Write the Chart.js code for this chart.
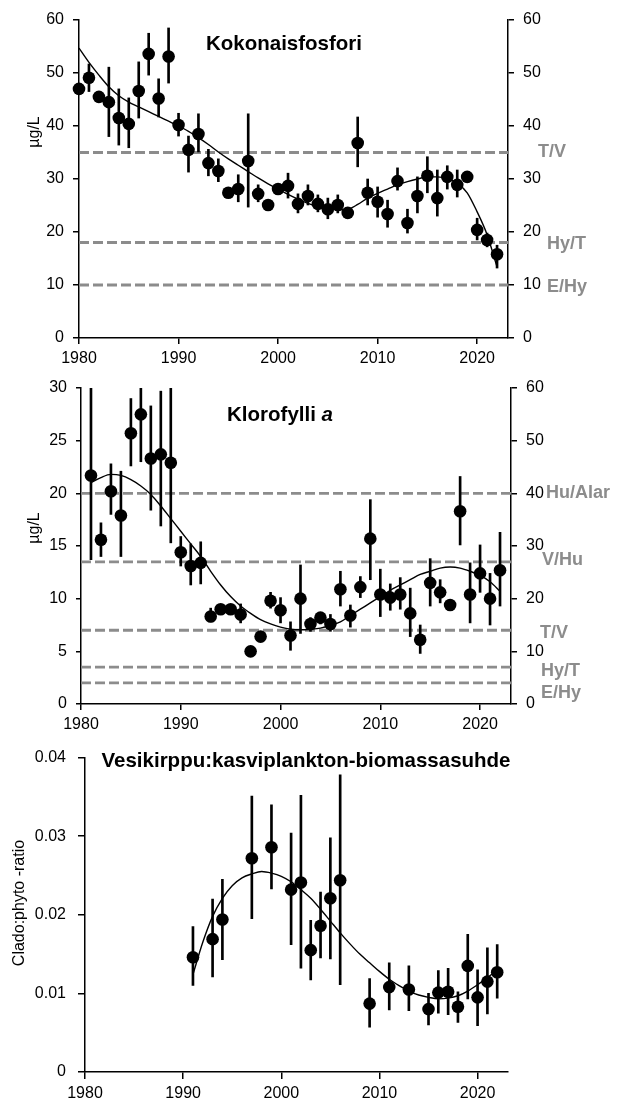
<!DOCTYPE html>
<html>
<head>
<meta charset="utf-8">
<script src="https://cdn.jsdelivr.net/npm/chart.js@4.4.0/dist/chart.umd.min.js"></script>
<style>
body { margin: 0; background: #fff; width: 621px; height: 1099px; position: relative; overflow: hidden; }
canvas { position: absolute; left: 0; }
</style>
</head>
<body>
<canvas id="g1" width="621" height="366" style="top:0px"></canvas>
<canvas id="g2" width="621" height="370" style="top:366px"></canvas>
<canvas id="g3" width="621" height="363" style="top:736px"></canvas>
<script>
// x axis shared by all three panels
var xTicks = [1980, 1990, 2000, 2010, 2020];
var xMin = 1980, xMax = 2023.1;

// Kokonaisfosfori (ug/L), yearly means with error bars + fitted curve
var tpYears = [1980, 1981, 1982, 1983, 1984, 1985, 1986, 1987, 1988, 1989,
               1990, 1991, 1992, 1993, 1994, 1995, 1996, 1997, 1998, 1999,
               2000, 2001, 2002, 2003, 2004, 2005, 2006, 2007, 2008, 2009,
               2010, 2011, 2012, 2013, 2014, 2015, 2016, 2017, 2018, 2019,
               2020, 2021, 2022];
var tpMean = [47.0, 49.1, 45.5, 44.5, 41.5, 40.4, 46.6, 53.6, 45.2, 53.1,
              40.2, 35.5, 38.5, 33.0, 31.5, 27.4, 28.1, 33.4, 27.2, 25.1,
              28.1, 28.7, 25.3, 26.8, 25.3, 24.3, 25.1, 23.6, 36.8, 27.4,
              25.7, 23.4, 29.6, 21.7, 26.8, 30.6, 26.4, 30.4, 28.9, 30.4,
              20.4, 18.5, 15.8];
var tpLow = [46.0, 46.5, 44.8, 38.0, 36.4, 35.9, 41.5, 49.6, 41.7, 48.1,
             38.1, 31.3, 35.1, 30.6, 29.5, 26.6, 25.7, 24.7, 25.7, 24.4,
             27.3, 26.4, 23.6, 25.1, 23.8, 22.5, 23.6, 22.9, 32.3, 25.1,
             22.8, 20.9, 27.9, 19.8, 23.6, 27.4, 23.0, 28.1, 26.6, 29.7,
             18.5, 17.2, 13.2];
var tpHigh = [48.0, 51.7, 46.2, 51.1, 47.0, 45.3, 52.1, 57.5, 48.9, 58.5,
              42.4, 38.1, 42.3, 35.6, 33.8, 28.2, 30.8, 42.3, 28.9, 25.8,
              28.9, 31.1, 27.2, 28.9, 27.0, 26.4, 27.0, 24.3, 41.7, 30.0,
              28.5, 26.0, 32.1, 24.3, 30.4, 34.2, 31.7, 32.5, 31.7, 31.1,
              22.6, 19.8, 17.5];
var tpFit = [54.7, 52.0, 49.6, 47.4, 45.7, 44.5, 43.6, 42.7, 41.8, 40.9,
             40.0, 39.0, 37.8, 36.5, 35.1, 33.8, 32.6, 31.4, 30.2, 29.1,
             28.1, 27.1, 26.2, 25.4, 24.8, 24.4, 24.2, 24.3, 25.2, 26.4,
             27.3, 28.1, 28.9, 29.5, 30.0, 30.4, 30.4, 30.1, 29.2, 27.4,
             23.8, 19.5, 13.4];
var tpTicks = [0, 10, 20, 30, 40, 50, 60];
var tpClasses = ['T/V', 'Hy/T', 'E/Hy'];
var tpLimits = [35, 18, 10];

// Klorofylli a (ug/L)
var chlYears = [1981, 1982, 1983, 1984, 1985, 1986, 1987, 1988, 1989,
                1990, 1991, 1992, 1993, 1994, 1995, 1996, 1997, 1998, 1999,
                2000, 2001, 2002, 2003, 2004, 2005, 2006, 2007, 2008, 2009,
                2010, 2011, 2012, 2013, 2014, 2015, 2016, 2017, 2018, 2019,
                2020, 2021, 2022];
var chlMean = [21.7, 15.6, 20.2, 17.9, 25.7, 27.5, 23.3, 23.7, 22.9,
               14.4, 13.1, 13.4, 8.3, 9.0, 9.0, 8.5, 5.0, 6.4, 9.8,
               8.9, 6.5, 10.0, 7.6, 8.2, 7.6, 10.9, 8.4, 11.1, 15.7,
               10.4, 10.1, 10.4, 8.6, 6.1, 11.5, 10.6, 9.4, 18.3, 10.4,
               12.4, 10.0, 12.7];
var chlLow = [13.7, 14.0, 18.0, 14.0, 22.6, 23.0, 18.4, 16.9, 15.3,
              13.1, 11.3, 11.4, 7.8, 8.6, 8.6, 7.7, 4.7, 6.1, 9.1,
              7.7, 5.1, 6.7, 6.9, 7.6, 6.9, 9.3, 7.3, 10.1, 11.8,
              8.3, 8.9, 9.0, 6.4, 4.8, 9.3, 9.6, 9.0, 15.1, 7.7,
              10.6, 7.5, 9.3];
var chlHigh = [30.0, 17.2, 22.8, 22.1, 29.0, 30.0, 28.3, 29.7, 30.0,
               15.9, 15.2, 15.4, 9.1, 9.4, 9.4, 9.5, 5.3, 6.7, 10.6,
               10.1, 7.8, 13.2, 8.2, 8.7, 8.5, 12.6, 9.4, 12.1, 19.4,
               12.8, 11.4, 12.0, 11.0, 7.5, 13.8, 11.8, 9.8, 21.6, 13.4,
               15.1, 12.4, 16.3];
var chlFit = [21.0, 21.5, 21.8, 21.7, 21.3, 20.7, 19.9, 18.8, 17.6,
              16.4, 15.2, 14.0, 12.6, 11.3, 10.2, 9.3, 8.6, 8.0, 7.6,
              7.3, 7.1, 7.05, 7.1, 7.2, 7.45, 7.8, 8.4, 9.0, 9.6,
              10.2, 10.8, 11.3, 11.8, 12.3, 12.6, 12.9, 13.0, 12.9, 12.6,
              12.2, 11.6, 10.7];
var chlTicks = [0, 5, 10, 15, 20, 25, 30];
var chlRightTicks = [0, 10, 20, 30, 40, 50, 60];
var chlClasses = ['Hu/Alar', 'V/Hu', 'T/V', 'Hy/T', 'E/Hy'];
var chlLimits = [20, 13.5, 7, 3.5, 2];

// Vesikirppu:kasviplankton-biomassasuhde
var ratioYears = [1991, 1993, 1994, 1997, 1999, 2001, 2002, 2003, 2004, 2005, 2006,
                  2009, 2011, 2013, 2015, 2016, 2017, 2018, 2019, 2020, 2021, 2022];
var ratioMean = [0.0146, 0.0169, 0.0194, 0.0272, 0.0286, 0.0232, 0.0241, 0.0155, 0.0186, 0.0221, 0.0244,
                 0.0087, 0.0108, 0.0105, 0.0080, 0.0101, 0.0102, 0.0083, 0.0135, 0.0095, 0.0115, 0.0127];
var ratioLow = [0.0110, 0.0121, 0.0143, 0.0195, 0.0233, 0.0162, 0.0132, 0.0117, 0.0145, 0.0144, 0.0111,
                0.0057, 0.0079, 0.0078, 0.0060, 0.0075, 0.0073, 0.0063, 0.0093, 0.0059, 0.0074, 0.0094];
var ratioHigh = [0.0185, 0.0220, 0.0245, 0.0351, 0.0340, 0.0304, 0.0352, 0.0193, 0.0229, 0.0298, 0.0378,
                 0.0119, 0.0139, 0.0135, 0.0100, 0.0129, 0.0132, 0.0102, 0.0175, 0.0130, 0.0158, 0.0162];
var ratioFitYears = [1991, 1992, 1993, 1994, 1995, 1996, 1997, 1998, 1999,
                     2000, 2001, 2002, 2003, 2004, 2005, 2006, 2007, 2008, 2009,
                     2010, 2011, 2012, 2013, 2014, 2015, 2016, 2017, 2018, 2019,
                     2020, 2021, 2022];
var ratioFit = [0.0124, 0.0165, 0.0198, 0.0221, 0.0237, 0.0247, 0.0252, 0.0255, 0.0253,
                0.0249, 0.0242, 0.0232, 0.0221, 0.0207, 0.0192, 0.0177, 0.0163, 0.0150, 0.0139,
                0.0128, 0.0118, 0.0110, 0.0103, 0.0098, 0.0095, 0.0093, 0.0094, 0.0097, 0.0103,
                0.0111, 0.0120, 0.0130];
var ratioTicks = [0, 0.01, 0.02, 0.03, 0.04];

var FONT = '"Liberation Sans", Arial, sans-serif';
var GREY = '#8c8c8c';

function pts(xs, ys) {
    return xs.map(function(x, i) { return {x: x, y: ys[i]}; });
}

function errBars(xs, lo, hi) {
    return xs.map(function(x, i) { return {x: x, y: [lo[i], hi[i]]}; });
}

function seriesSets(years, mean, lo, hi, fitYears, fit) {
    return [{
        type: 'line',
        data: pts(years, mean),
        showLine: false,
        pointRadius: 6.3,
        pointBackgroundColor: '#000',
        pointBorderWidth: 0,
        clip: 10,
        order: 0
    }, {
        type: 'line',
        data: pts(fitYears, fit),
        borderColor: '#000',
        borderWidth: 1.4,
        pointRadius: 0,
        cubicInterpolationMode: 'monotone',
        order: 1
    }, {
        type: 'bar',
        data: errBars(years, lo, hi),
        backgroundColor: '#000',
        barThickness: 2,
        order: 2
    }];
}

function limitSets(limits, width) {
    return limits.map(function(v) {
        return {
            type: 'line',
            data: [{x: xMin, y: v}, {x: xMax, y: v}],
            borderColor: GREY,
            borderWidth: width,
            borderDash: [10, 4],
            pointRadius: 0,
            order: 3
        };
    });
}

function xAxis(h, tl) {
    return {
        type: 'linear',
        min: xMin,
        max: xMax,
        offset: false,
        afterBuildTicks: function(s) { s.ticks = xTicks.map(function(v) { return {value: v}; }); },
        afterFit: function(s) { s.height = h; },
        grid: {drawOnChartArea: false, drawTicks: true, tickLength: tl, color: '#000', lineWidth: 1.5, offset: false},
        border: {color: '#000', width: 1.5},
        ticks: {
            color: '#000',
            font: {family: FONT, size: 16},
            padding: 5,
            maxRotation: 0,
            autoSkip: false,
            callback: function(v) { return String(v); }
        }
    };
}

function yAxis(pos, max, ticks, w, tl, pad) {
    return {
        type: 'linear',
        position: pos,
        min: 0,
        max: max,
        afterBuildTicks: function(s) { s.ticks = ticks.map(function(v) { return {value: v}; }); },
        afterFit: function(s) { s.width = w; },
        grid: {drawOnChartArea: false, drawTicks: true, tickLength: tl, color: '#000', lineWidth: 1.5},
        border: {color: '#000', width: 1.5},
        ticks: {
            color: '#000',
            font: {family: FONT, size: 16},
            padding: pad,
            callback: function(v) { return String(v); }
        }
    };
}

// titles, rotated unit label and the trophic class names beside the right axis
var textPlugin = {
    id: 'texts',
    afterDraw: function(chart, args, o) {
        var ctx = chart.ctx;
        ctx.save();
        ctx.fillStyle = '#000';
        ctx.textBaseline = 'middle';

        var widths = o.title.map(function(p) {
            ctx.font = (p.italic ? 'italic ' : '') + 'bold 20.5px ' + FONT;
            return ctx.measureText(p.text).width;
        });
        var total = widths.reduce(function(a, b) { return a + b; }, 0);
        var tx = o.titleX - total / 2;
        o.title.forEach(function(p, i) {
            ctx.font = (p.italic ? 'italic ' : '') + 'bold 20.5px ' + FONT;
            ctx.textAlign = 'left';
            ctx.fillText(p.text, tx, o.titleY);
            tx += widths[i];
        });

        ctx.save();
        ctx.translate(o.unitX, o.unitY);
        ctx.rotate(-Math.PI / 2);
        ctx.font = '16px ' + FONT;
        ctx.textAlign = 'center';
        ctx.fillText(o.unit, 0, 0);
        ctx.restore();

        if (o.classes) {
            var ys = chart.scales.y;
            ctx.fillStyle = GREY;
            ctx.font = 'bold 18px ' + FONT;
            ctx.textAlign = 'left';
            o.classes.forEach(function(c, i) {
                ctx.fillText(c, o.classX[i], ys.getPixelForValue(o.classAt[i]) + o.classDy[i]);
            });
        }
        ctx.restore();
    }
};

Chart.register(textPlugin);

var base = {
    responsive: false,
    animation: false,
    plugins: {legend: {display: false}, tooltip: {enabled: false}}
};

function opts(extra) {
    return Object.assign({}, base, extra);
}

// Kokonaisfosfori
new Chart(document.getElementById('g1'), {
    type: 'line',
    data: {datasets: seriesSets(tpYears, tpMean, tpLow, tpHigh, tpYears, tpFit).concat(limitSets(tpLimits, 3))},
    options: opts({
        layout: {padding: {top: 20, bottom: 0, left: 0, right: 0}},
        scales: {
            x: xAxis(28, 6),
            y: yAxis('left', 60, tpTicks, 79, 6, 9),
            y2: yAxis('right', 60, tpTicks, 113, 6, 9)
        },
        plugins: {
            legend: {display: false},
            tooltip: {enabled: false},
            texts: {
                title: [{text: 'Kokonaisfosfori'}],
                titleX: 284, titleY: 44,
                unit: 'µg/L', unitX: 35, unitY: 132,
                classes: tpClasses,
                classAt: tpLimits,
                classX: [538, 547, 547],
                classDy: [0, 1, 2]
            }
        }
    })
});

// Klorofylli a
new Chart(document.getElementById('g2'), {
    type: 'line',
    data: {datasets: seriesSets(chlYears, chlMean, chlLow, chlHigh, chlYears, chlFit).concat(limitSets(chlLimits, 2.8))},
    options: opts({
        layout: {padding: {top: 22, bottom: 0, left: 0, right: 0}},
        scales: {
            x: xAxis(32, 6),
            y: yAxis('left', 30, chlTicks, 81, 5, 9),
            y2: yAxis('right', 60, chlRightTicks, 110, 6, 9)
        },
        plugins: {
            legend: {display: false},
            tooltip: {enabled: false},
            texts: {
                title: [{text: 'Klorofylli '}, {text: 'a', italic: true}],
                titleX: 280, titleY: 49,
                unit: 'µg/L', unitX: 35, unitY: 162,
                classes: chlClasses,
                classAt: chlLimits,
                classX: [546, 542, 540, 541, 541],
                classDy: [0, -2, 3, 4, 10]
            }
        }
    })
});

// Vesikirppu:kasviplankton-biomassasuhde
new Chart(document.getElementById('g3'), {
    type: 'line',
    data: {datasets: seriesSets(ratioYears, ratioMean, ratioLow, ratioHigh, ratioFitYears, ratioFit)},
    options: opts({
        layout: {padding: {top: 18, bottom: 0, left: 0, right: 113}},
        scales: {
            x: xAxis(27, 7),
            y: yAxis('left', 0.04, ratioTicks, 85, 7, 12)
        },
        plugins: {
            legend: {display: false},
            tooltip: {enabled: false},
            texts: {
                title: [{text: 'Vesikirppu:kasviplankton-biomassasuhde'}],
                titleX: 306, titleY: 25,
                unit: 'Clado:phyto -ratio', unitX: 20, unitY: 167
            }
        }
    })
});
</script>
</body>
</html>
